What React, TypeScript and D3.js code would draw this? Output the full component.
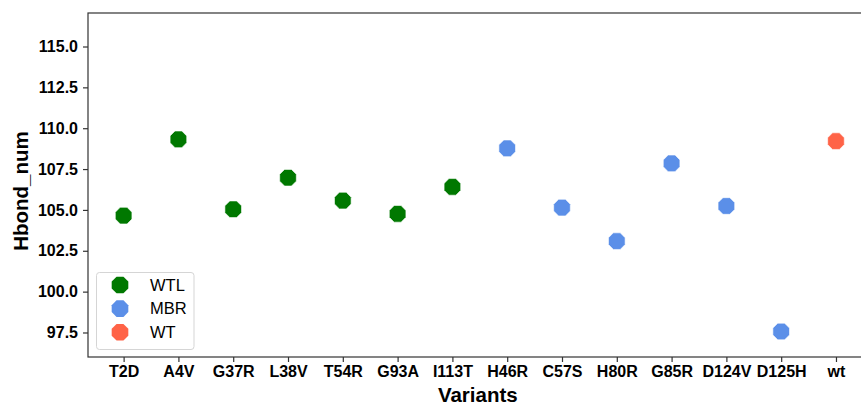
import React, { useRef, useEffect } from 'react'
import * as d3 from 'd3'

const variants = ['T2D', 'A4V', 'G37R', 'L38V', 'T54R', 'G93A', 'I113T', 'H46R', 'C57S', 'H80R', 'G85R', 'D124V', 'D125H', 'wt']
const hbondNum = [104.65, 109.32, 105.04, 106.97, 105.57, 104.76, 106.41, 108.77, 105.14, 103.09, 107.85, 105.24, 97.56, 109.21]
const groups = ['WTL', 'WTL', 'WTL', 'WTL', 'WTL', 'WTL', 'WTL', 'MBR', 'MBR', 'MBR', 'MBR', 'MBR', 'MBR', 'WT']
const legendGroups = ['WTL', 'MBR', 'WT']
const groupColors = ['#007800', '#5b8fe8', '#ff6347']
const yTicks = [97.5, 100, 102.5, 105, 107.5, 110, 112.5, 115]

// flat-topped octagon like matplotlib's '8' marker
const octagon = (r: number) => {
  const pts: [number, number][] = d3.range(8).map(k => {
    const a = Math.PI / 8 + k * Math.PI / 4
    return [r * Math.cos(a), r * Math.sin(a)]
  })
  return d3.line()(pts) + 'Z'
}

const App = () => {
  const container = useRef<SVGSVGElement>(null)
  const width = 861
  const height = 405

  useEffect(() => {
    const svg = d3.select(container.current)
    svg.selectAll('*').remove()

    const left = 88, right = 871.6, top = 13, bottom = 357
    const font = '"Liberation Sans", Arial, Helvetica, sans-serif'

    const x = d3.scaleLinear().domain([-0.65, 13.65]).range([left, right])
    const y = d3.scaleLinear().domain([96.0, 117.05]).range([bottom, top])
    const color = d3.scaleOrdinal<string>().domain(legendGroups).range(groupColors)

    // frame
    svg.append('rect')
      .attr('x', left).attr('y', top)
      .attr('width', right - left).attr('height', bottom - top)
      .attr('fill', 'none').attr('stroke', '#333').attr('stroke-width', 1.2)

    const xAxis = d3.axisBottom(x)
      .tickValues(d3.range(variants.length))
      .tickFormat(i => variants[i as number])
      .tickSize(5).tickPadding(4)

    const gx = svg.append('g')
      .attr('transform', `translate(0, ${bottom})`)
      .call(xAxis)
    gx.select('.domain').remove()
    gx.selectAll('line').attr('stroke', '#333').attr('stroke-width', 1.2)
    gx.selectAll('text')
      .style('font-family', font).style('font-size', '16px')
      .style('font-weight', 'bold').attr('fill', '#000')

    const yAxis = d3.axisLeft(y)
      .tickValues(yTicks)
      .tickFormat(d3.format('.1f'))
      .tickSize(5).tickPadding(5)

    const gy = svg.append('g')
      .attr('transform', `translate(${left}, 0)`)
      .call(yAxis)
    gy.select('.domain').remove()
    gy.selectAll('line').attr('stroke', '#333').attr('stroke-width', 1.2)
    gy.selectAll('text')
      .style('font-family', font).style('font-size', '16px')
      .style('font-weight', 'bold').attr('fill', '#000')

    // axis titles
    svg.append('text')
      .attr('x', (left + right) / 2 - 2)
      .attr('y', 402)
      .attr('text-anchor', 'middle')
      .style('font-family', font).style('font-size', '20.5px').style('font-weight', 'bold')
      .text('Variants')

    svg.append('text')
      .attr('transform', `translate(28, ${(top + bottom) / 2 + 6}) rotate(-90)`)
      .attr('text-anchor', 'middle')
      .style('font-family', font).style('font-size', '20.5px').style('font-weight', 'bold')
      .text('Hbond_num')

    // points
    svg.append('g')
      .selectAll('path')
      .data(hbondNum)
      .enter()
      .append('path')
        .attr('d', octagon(9))
        .attr('transform', (d, i) => `translate(${x(i)}, ${y(d)})`)
        .attr('fill', (d, i) => color(groups[i]))
        .attr('stroke', '#fff').attr('stroke-width', 0.6)

    // legend
    const lg = svg.append('g')
    lg.append('rect')
      .attr('x', 96.5).attr('y', 272.5).attr('width', 97.5).attr('height', 77)
      .attr('rx', 3).attr('fill', '#fff').attr('fill-opacity', 0.8)
      .attr('stroke', '#d5d5d5')
    legendGroups.forEach((g, i) => {
      const ly = 285 + i * 23.6
      lg.append('path')
        .attr('d', octagon(9))
        .attr('transform', `translate(120, ${ly})`)
        .attr('fill', color(g))
      lg.append('text')
        .attr('x', 150).attr('y', ly + 5.5)
        .style('font-family', font).style('font-size', '16.5px')
        .text(g)
    })
  }, [])

  return (
    <svg
      ref={container}
      width={width}
      height={height}
      style={{ position: 'absolute', left: 0, top: 0, background: '#fff' }}
    />
  )
}

export default App
